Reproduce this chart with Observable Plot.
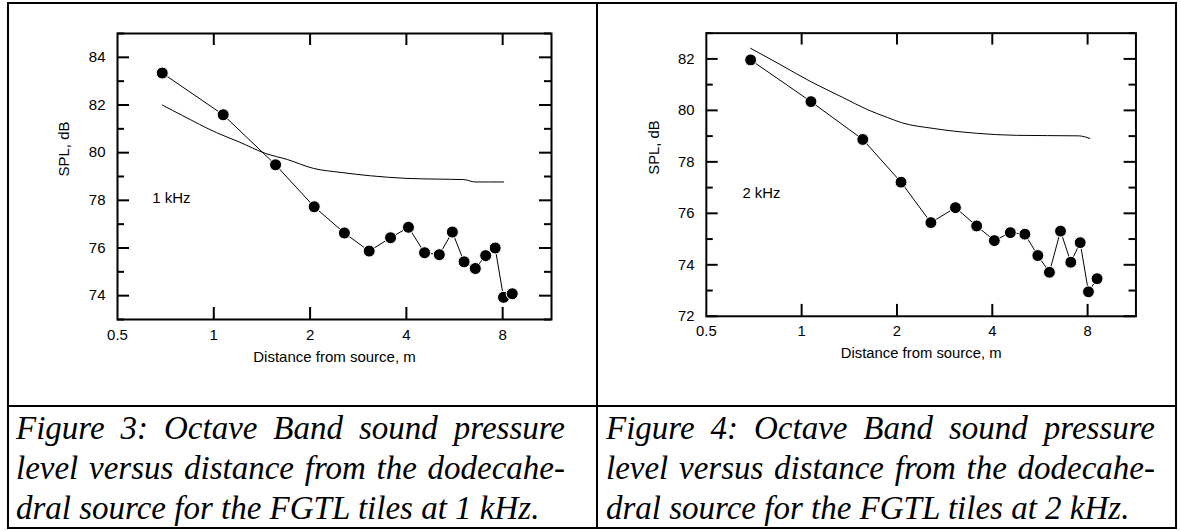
<!DOCTYPE html>
<html><head><meta charset="utf-8">
<script src="https://cdn.jsdelivr.net/npm/d3@7"></script>
<script src="https://cdn.jsdelivr.net/npm/@observablehq/plot@0.6"></script>
<style>
body{margin:0;background:#fff;}
#page{position:relative;width:1181px;height:531px;overflow:hidden;background:#fff;}
.ln{position:absolute;background:#000;}
.plot{position:absolute;top:0;}
.cap{position:absolute;width:549px;font-family:"Liberation Serif","Times New Roman",serif;font-style:italic;font-size:33px;line-height:40px;color:#000;}
.cap div{white-space:nowrap;}
.cap .j{text-align:justify;text-align-last:justify;}
</style></head><body>
<div id="page">
 <div class="ln" style="left:7px;top:2px;width:1170px;height:2px"></div>
 <div class="ln" style="left:7px;top:527px;width:1170px;height:2px"></div>
 <div class="ln" style="left:7px;top:2px;width:2px;height:527px"></div>
 <div class="ln" style="left:1175px;top:2px;width:2px;height:527px"></div>
 <div class="ln" style="left:596px;top:2px;width:2px;height:527px"></div>
 <div class="ln" style="left:7px;top:405px;width:1170px;height:2px"></div>
 <div id="p1" class="plot" style="left:0px"></div>
 <div id="p2" class="plot" style="left:590px"></div>
 <div class="cap" style="left:16px;top:408px"><div class="j">Figure 3: Octave Band sound pressure</div><div class="j">level versus distance from the dodecahe-</div><div>dral source for the FGTL tiles at 1 kHz.</div></div>
 <div class="cap" style="left:606px;top:408px"><div class="j">Figure 4: Octave Band sound pressure</div><div class="j">level versus distance from the dodecahe-</div><div>dral source for the FGTL tiles at 2 kHz.</div></div>
</div>
<script>
// measurement distances (m)
const distance = [0.69, 1.07, 1.56, 2.06, 2.56, 3.06, 3.57, 4.06, 4.56, 5.07, 5.57, 6.06, 6.57, 7.08, 7.58, 8.05, 8.57];
// measured SPL, dB
const spl1k = [83.34, 81.59, 79.49, 77.73, 76.63, 75.87, 76.43, 76.87, 75.80, 75.72, 76.67, 75.42, 75.14, 75.68, 76.00, 73.93, 74.08];
const spl2k = [81.96, 80.34, 78.87, 77.21, 75.64, 76.22, 75.51, 74.94, 75.25, 75.19, 74.36, 73.71, 75.31, 74.10, 74.86, 72.95, 73.46];
// theoretical curves
const theoryDist1k = [0.69, 0.8, 1.02, 1.2, 1.45, 1.7, 2.05, 2.5, 3.09, 4.02, 5.0, 6.05, 6.56, 8.06];
const theory1k = [82.0, 81.55, 80.84, 80.45, 79.97, 79.71, 79.34, 79.17, 79.03, 78.92, 78.89, 78.87, 78.77, 78.77];
const theoryDist2k = [0.69, 0.85, 1.075, 1.35, 1.62, 1.87, 2.07, 2.6, 3.57, 4.76, 7.5, 8.13];
const theory2k = [82.41, 81.8, 81.1, 80.5, 80.02, 79.72, 79.52, 79.3, 79.11, 79.03, 79.01, 78.91];
// axes
const xDomain = [0.5, 11.37];
const xTicks = [0.5, 1, 2, 4, 8];
const xInnerTicks = [1, 2, 4, 8];
const yDomain1k = [73, 85];
const yMajor1k = [74, 76, 78, 80, 82, 84];
const yMinor1k = [73, 75, 77, 79, 81, 83, 85];
const yDomain2k = [72, 83];
const yMajor2k = [72, 74, 76, 78, 80, 82];
const yMinor2k = [73, 75, 77, 79, 81, 83];
const bandLabels = ["1 kHz", "2 kHz"];
const bandLabelPos = [[0.642, 78.1], [0.65, 76.8]];
const yLabel = "SPL, dB";
const xLabel = "Distance from source, m";

function makePlot(measured, thX, thY, yDomain, yMajor, yMinor, band, bandPos) {
  const W = 597, H = 400, mL = 117, mR = 46, mT = 33, mB = 81;
  const fw = W - mL - mR, fh = H - mT - mB;
  const pts = distance.map((d, i) => ({x: d, y: measured[i]}));
  const th = thX.map((d, i) => ({x: d, y: thY[i]}));
  const tk = {stroke: "black", strokeWidth: 2};
  return Plot.plot({
    width: W, height: H, marginLeft: mL, marginRight: mR, marginTop: mT, marginBottom: mB,
    style: {fontFamily: "'Liberation Sans', Arial, sans-serif", fontSize: "15px", color: "black", background: "transparent"},
    x: {type: "log", domain: xDomain, axis: null},
    y: {domain: yDomain},
    marks: [
      Plot.line(th, {x: "x", y: "y", stroke: "black", strokeWidth: 1, curve: "monotone-x"}),
      Plot.line(pts, {x: "x", y: "y", stroke: "black", strokeWidth: 1}),
      Plot.dot(pts, {x: "x", y: "y", r: 6, fill: "black", stroke: "white", strokeWidth: 1}),
      Plot.tickY(yMajor, {y: d => d, insetRight: fw - 12, ...tk}),
      Plot.tickY(yMajor, {y: d => d, insetLeft: fw - 12, ...tk}),
      Plot.tickY(yMinor, {y: d => d, insetRight: fw - 7, ...tk}),
      Plot.tickY(yMinor, {y: d => d, insetLeft: fw - 7, ...tk}),
      Plot.tickX(xInnerTicks, {x: d => d, insetTop: fh - 12, ...tk}),
      Plot.tickX(xInnerTicks, {x: d => d, insetBottom: fh - 12, ...tk}),
      Plot.text(xTicks, {x: d => d, text: d => String(d), frameAnchor: "bottom", dy: 20, fill: "black"}),
      Plot.axisY(yMajor, {tickSize: 0, tickPadding: 12, tickFormat: d => String(d), label: null}),
      Plot.frame({stroke: "black", strokeWidth: 2}),
      Plot.text([{x: bandPos[0], y: bandPos[1], t: band}], {x: "x", y: "y", text: "t", textAnchor: "start"}),
      Plot.text([yLabel], {text: d => d, frameAnchor: "left", dx: -53, rotate: -90}),
      Plot.text([xLabel], {text: d => d, frameAnchor: "bottom", dy: 42})
    ]
  });
}
document.getElementById("p1").appendChild(makePlot(spl1k, theoryDist1k, theory1k, yDomain1k, yMajor1k, yMinor1k, bandLabels[0], bandLabelPos[0]));
document.getElementById("p2").appendChild(makePlot(spl2k, theoryDist2k, theory2k, yDomain2k, yMajor2k, yMinor2k, bandLabels[1], bandLabelPos[1]));
</script>
</body></html>
